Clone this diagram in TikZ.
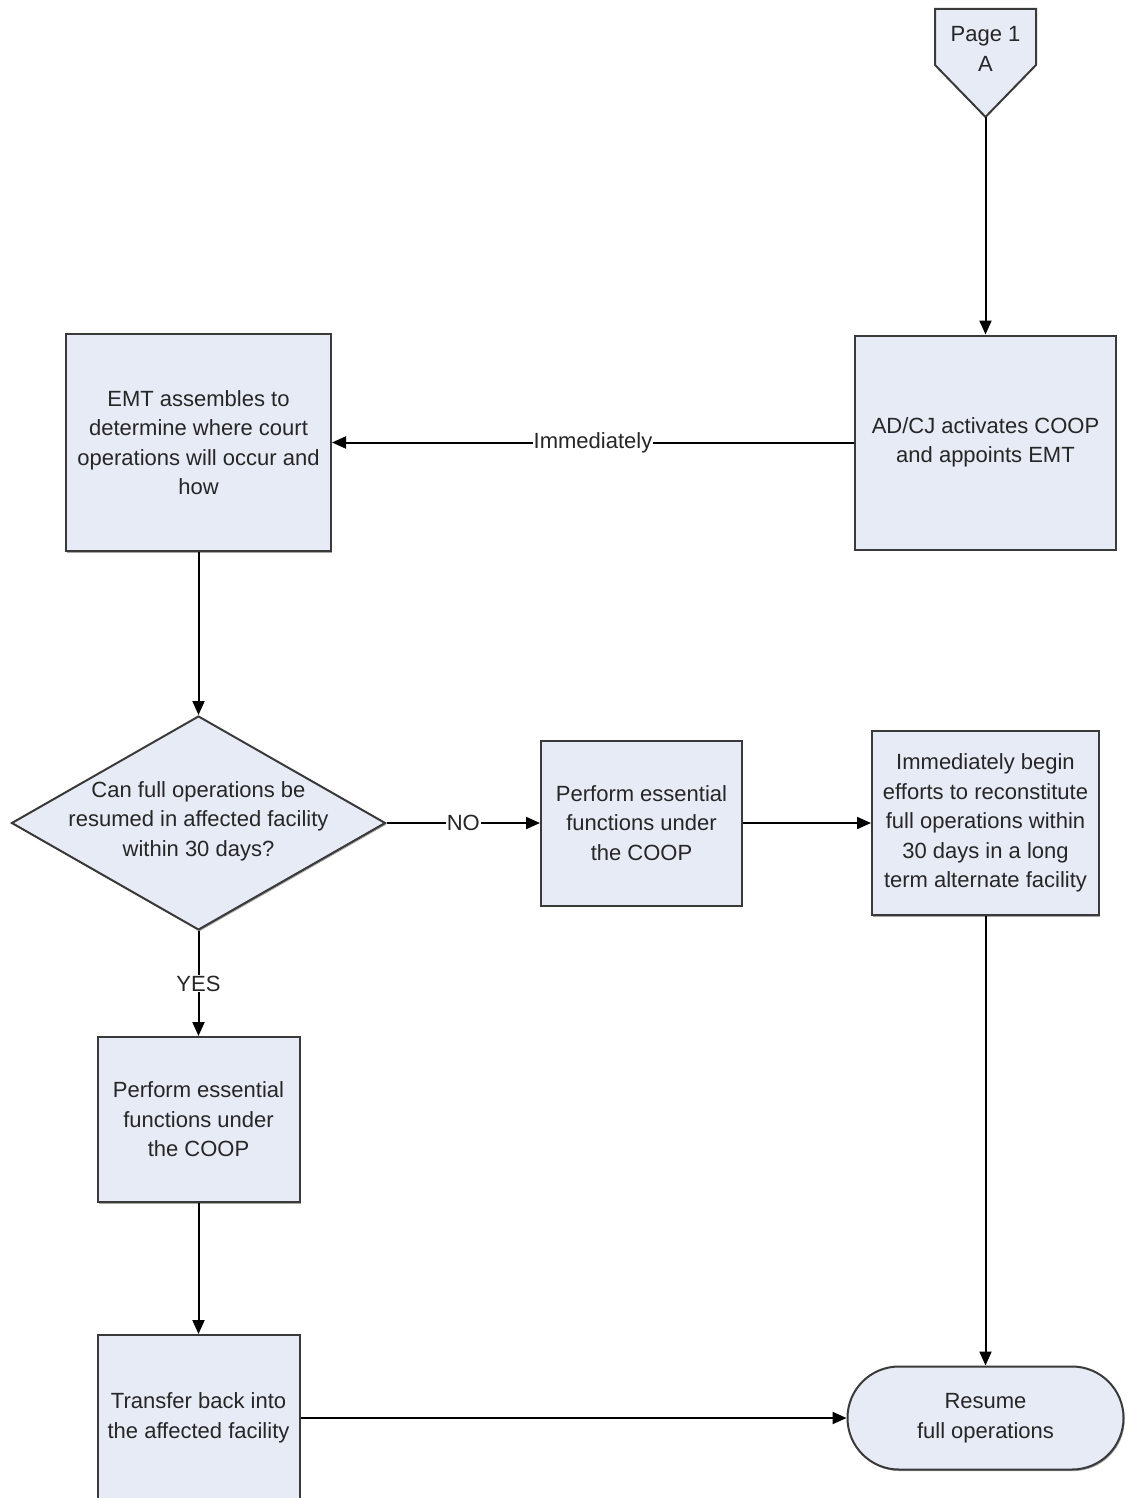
\documentclass[tikz,border=0pt]{standalone}
\usepackage{fontspec}
\setmainfont{Liberation Sans}
\usetikzlibrary{arrows.meta,shapes.geometric,shadows}
\definecolor{boxfill}{HTML}{E6EBF5}
\definecolor{boxline}{HTML}{3A3A3A}
\definecolor{txt}{HTML}{262626}
\tikzset{
  box/.style={draw=boxline, line width=1pt, fill=boxfill, align=center, text=txt,
    font=\fontsize{11pt}{14.75pt}\selectfont, inner sep=2pt,
    drop shadow={shadow xshift=0.6pt, shadow yshift=-0.8pt, fill=black, opacity=0.35}},
  conn/.style={-{Triangle[length=7pt,width=6pt]}, line width=1pt, draw=black},
  lbl/.style={fill=white, text=txt, font=\fontsize{11pt}{14.75pt}\selectfont, inner sep=0.5pt},
  txtonly/.style={align=center, text=txt, font=\fontsize{11pt}{14.75pt}\selectfont}
}
\begin{document}
\begin{tikzpicture}[x=0.5pt, y=-0.5pt]
\useasboundingbox (0,0) rectangle (1126,1498);
\fill[white] (0,0) rectangle (1126,1498);

% off-page connector
\draw[boxline, line width=1pt, fill=boxfill] (935,9) -- (1036,9) -- (1036,65) -- (985.5,117) -- (935,65) -- cycle;
\node[txtonly] (pageA) at (985.5,49) {Page 1\\A};
\coordinate (tip) at (985.5,117);

\node[box, minimum width=130.5pt, minimum height=107pt] (adcj) at (985.5,442.5) {AD/CJ activates COOP\\and appoints EMT};
\node[box, minimum width=132.5pt, minimum height=108.5pt] (emt) at (198.5,442.5) {EMT assembles to\\determine where court\\operations will occur and\\how};

\node[draw=boxline, line width=1pt, fill=boxfill, diamond, minimum width=187pt, minimum height=107pt, inner sep=0pt,
  drop shadow={shadow xshift=0.6pt, shadow yshift=-0.8pt, fill=black, opacity=0.35}] (dia) at (198.5,823) {};
\node[txtonly] (diatext) at (198.5,821) {Can full operations be\\resumed in affected facility\\within 30 days?};

\node[box, minimum width=100.5pt, minimum height=82.5pt] (p1) at (641.5,823) {Perform essential\\functions under\\the COOP};
\node[box, minimum width=113.5pt, minimum height=92pt] (imm) at (985.5,823) {Immediately begin\\efforts to reconstitute\\full operations within\\30 days in a long\\term alternate facility};

\node[box, minimum width=101pt, minimum height=82.5pt] (p2) at (198.5,1119.5) {Perform essential\\functions under\\the COOP};
\node[box, minimum width=101pt, minimum height=83pt] (tr) at (198.5,1418) {Transfer back into\\the affected facility};

\node[box, rounded corners=25.7pt, minimum width=138pt, minimum height=51.5pt] (term) at (985.5,1418) {Resume\\full operations};

% connectors
\draw[conn] (tip) -- (adcj.north);
\draw[conn] (adcj.west) -- node[lbl] {Immediately} (emt.east);
\draw[conn] (emt.south) -- (dia.north);
\draw[conn] (dia.east) -- node[lbl] {NO} (p1.west);
\draw[conn] (p1.east) -- (imm.west);
\draw[conn] (imm.south) -- (term.north);
\draw[conn] (dia.south) -- node[lbl] {YES} (p2.north);
\draw[conn] (p2.south) -- (tr.north);
\draw[conn] (tr.east) -- (term.west);
\end{tikzpicture}
\end{document}
